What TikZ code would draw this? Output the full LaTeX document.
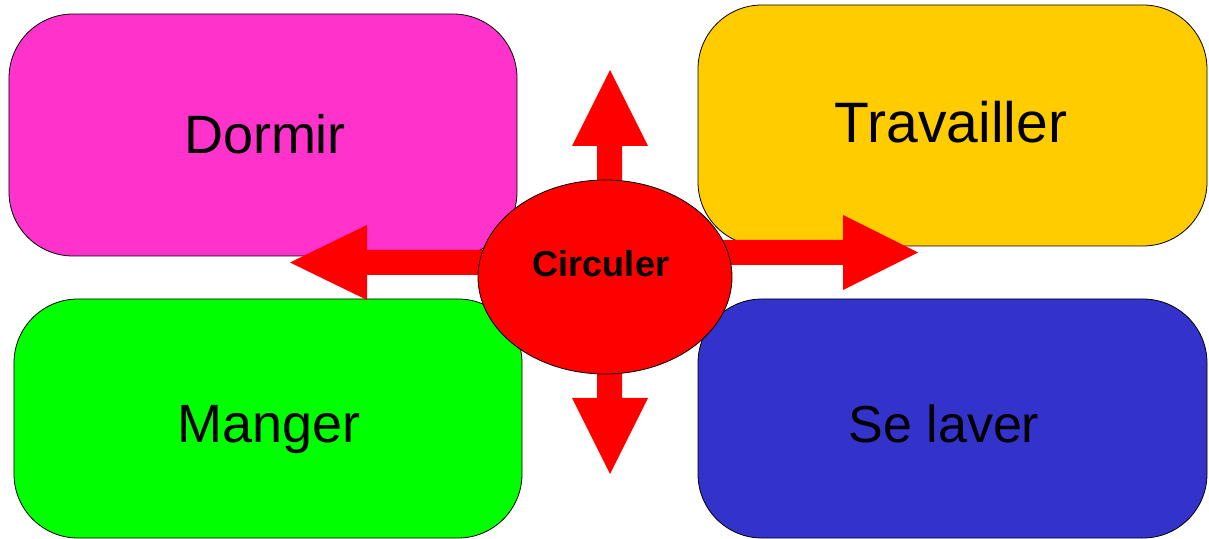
\documentclass[tikz,border=0pt]{standalone}
\usepackage{fontspec}
\setmainfont{Liberation Sans}
\definecolor{cMag}{HTML}{FF33CC}
\definecolor{cYel}{HTML}{FFCC00}
\definecolor{cGrn}{HTML}{00FF00}
\definecolor{cBlu}{HTML}{3333CC}
\definecolor{cRed}{HTML}{FF0000}
\usetikzlibrary{shapes.geometric}
\tikzset{
  activity/.style={draw=black, line width=0.8bp, rounded corners=64bp, inner sep=0pt},
  actlabel/.style={anchor=base, inner sep=0pt, font=\fontsize{54bp}{60bp}\selectfont, text=black},
  hub/.style={draw=black, line width=0.8bp, fill=cRed, ellipse, inner sep=0pt,
    minimum width=254bp, minimum height=194bp},
  hubfont/.style={anchor=base, inner sep=0pt, font=\bfseries\fontsize{36bp}{40bp}\selectfont, text=black},
  blockarrow/.style={fill=cRed, draw=none}
}
\begin{document}
\begin{tikzpicture}[x=1bp, y=-1bp]
\useasboundingbox (0,0) rectangle (1209,539);
% boxes
\node[activity, fill=cMag, minimum width=508bp, minimum height=242bp] (dormir) at (263,135) {};
\node[activity, fill=cYel, minimum width=509bp, minimum height=241bp] (trav) at (952.5,125.5) {};
\node[activity, fill=cGrn, minimum width=508bp, minimum height=239bp] (manger) at (268,418.5) {};
\node[activity, fill=cBlu, minimum width=509bp, minimum height=239bp] (laver) at (952.5,418.5) {};
\node[actlabel] (tdormir) at (265,154) {Dormir};
\node[actlabel, font=\fontsize{57bp}{60bp}\selectfont] (ttrav) at (951,143) {Travailler};
\node[actlabel] (tmanger) at (269,442) {Manger};
\node[actlabel, font=\fontsize{52bp}{60bp}\selectfont] (tlaver) at (944,442) {Se laver};
% arrow tips
\coordinate (tipU) at (610,70);
\coordinate (tipD) at (610,474);
\coordinate (tipL) at (290,262.5);
\coordinate (tipR) at (918,252.5);
% up
\fill[blockarrow] (597,277) -- (597,146) -- (572,146) -- (tipU) -- (648,146) -- (622,146) -- (622,277) -- cycle;
% down
\fill[blockarrow] (597,277) -- (597,398) -- (572,398) -- (tipD) -- (648,398) -- (622,398) -- (622,277) -- cycle;
% left
\fill[blockarrow] (605,250) -- (367,250) -- (367,225) -- (tipL) -- (367,300) -- (367,275) -- (605,275) -- cycle;
% right
\fill[blockarrow] (605,240) -- (843,240) -- (843,215) -- (tipR) -- (843,290) -- (843,265) -- (605,265) -- cycle;
% hub
\node[hub] (hub) at (605,277) {};
\node[hubfont] (hubtext) at (601,277) {Circuler};
\end{tikzpicture}
\end{document}
